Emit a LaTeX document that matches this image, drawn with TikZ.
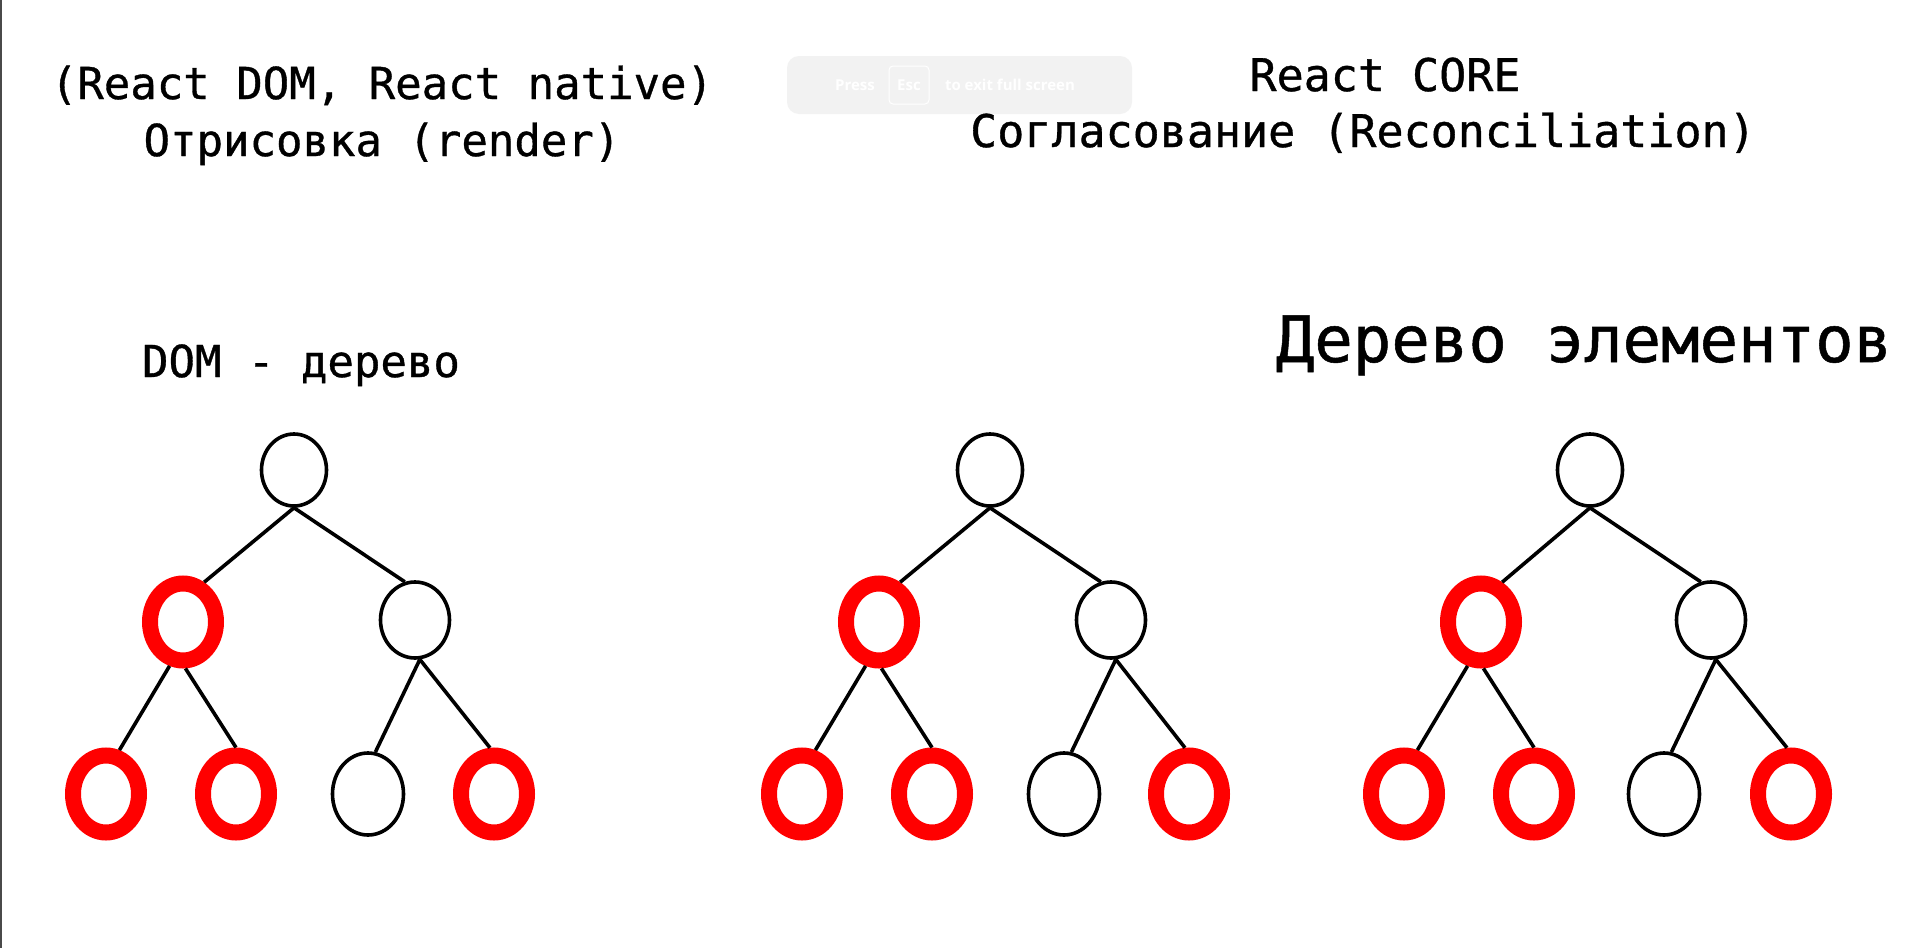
\documentclass[tikz,border=0pt]{standalone}
\usepackage{fontspec}
\setmonofont[RawFeature={embolden=0.8}]{DejaVu Sans Mono}
\newfontfamily\uifont{Open Sans}
\usetikzlibrary{shapes.geometric}

\definecolor{escgray}{HTML}{F2F2F2}
\definecolor{framegray}{HTML}{4A4A4A}

\tikzset{
  heading/.style={font=\ttfamily\fontsize{22}{26}\selectfont, anchor=base, inner sep=0pt},
  bigheading/.style={font=\ttfamily\fontsize{32}{38}\selectfont, anchor=base, inner sep=0pt},
  hot/.style={ellipse, draw=red, line width=8pt, minimum width=33pt, minimum height=38.5pt, inner sep=0pt},
  blank/.style={ellipse, draw=black, line width=1.8pt, minimum width=34.5pt, minimum height=38pt, inner sep=0pt},
  link/.style={line width=1.8pt},
  esctext/.style={font=\uifont\bfseries\fontsize{7.5}{9}\selectfont, text=white, inner sep=0pt},
}

\begin{document}
\begin{tikzpicture}[x=0.5pt, y=-0.5pt]
  % Page
  \fill[white] (0,0) rectangle (1919,948);
  \useasboundingbox (0,0) rectangle (1919,948);
  \draw[framegray, line width=1pt] (1,0) -- (1,948);

  % Full screen hint
  \fill[escgray, rounded corners=6pt] (787,56) rectangle (1132,114);
  \node[esctext] (press) at (855,85) {Press};
  \node[esctext, draw=white, line width=0.5pt, rounded corners=2pt, minimum width=20pt, minimum height=19pt] (esc) at (909,85) {Esc};
  \node[esctext] (exit) at (1010,85) {to exit full screen};

  % Headings
  \node[heading] (libs) at (382,99) {(React DOM, React native)};
  \node[heading] (render) at (382,156) {Отрисовка (render)};
  \node[heading, font=\ttfamily\fontsize{22.5}{26}\selectfont] (core) at (1385,91) {React CORE};
  \node[heading, font=\ttfamily\fontsize{22.5}{26}\selectfont] (recon) at (1363,147) {Согласование (Reconciliation)};
  \node[heading] (domtree) at (301,377) {DOM - дерево};
  \node[bigheading] (elemtree) at (1584,362) {Дерево элементов};

  % DOM tree
  \node[blank, minimum width=32.5pt, minimum height=36pt] (a0) at (294,470) {};
  \node[hot] (a1) at (183,622) {};
  \node[blank] (a2) at (415,620) {};
  \node[hot] (a11) at (106,794) {};
  \node[hot] (a12) at (236,794) {};
  \node[blank, minimum width=35.5pt, minimum height=41pt] (a21) at (368,794) {};
  \node[hot] (a22) at (494,794) {};
  \draw[link] (a0.south) -- (a1.62);
  \draw[link] (a0.south) -- (a2.105);
  \draw[link] (a1.253) -- (a11.73);
  \draw[link] (a1.-87) -- (a12.90);
  \draw[link] (a2.-83) -- (a21.80);
  \draw[link] (a2.-83) -- (a22.95);

  % Middle tree
  \node[blank, minimum width=32.5pt, minimum height=36pt] (b0) at (990,470) {};
  \node[hot] (b1) at (879,622) {};
  \node[blank] (b2) at (1111,620) {};
  \node[hot] (b11) at (802,794) {};
  \node[hot] (b12) at (932,794) {};
  \node[blank, minimum width=35.5pt, minimum height=41pt] (b21) at (1064,794) {};
  \node[hot] (b22) at (1189,794) {};
  \draw[link] (b0.south) -- (b1.62);
  \draw[link] (b0.south) -- (b2.105);
  \draw[link] (b1.253) -- (b11.73);
  \draw[link] (b1.-87) -- (b12.90);
  \draw[link] (b2.-83) -- (b21.80);
  \draw[link] (b2.-83) -- (b22.95);

  % Element tree
  \node[blank, minimum width=32.5pt, minimum height=36pt] (c0) at (1590,470) {};
  \node[hot] (c1) at (1481,622) {};
  \node[blank] (c2) at (1711,620) {};
  \node[hot] (c11) at (1404,794) {};
  \node[hot] (c12) at (1534,794) {};
  \node[blank, minimum width=35.5pt, minimum height=41pt] (c21) at (1664,794) {};
  \node[hot] (c22) at (1791,794) {};
  \draw[link] (c0.south) -- (c1.62);
  \draw[link] (c0.south) -- (c2.105);
  \draw[link] (c1.253) -- (c11.73);
  \draw[link] (c1.-87) -- (c12.90);
  \draw[link] (c2.-83) -- (c21.80);
  \draw[link] (c2.-83) -- (c22.95);
\end{tikzpicture}
\end{document}
